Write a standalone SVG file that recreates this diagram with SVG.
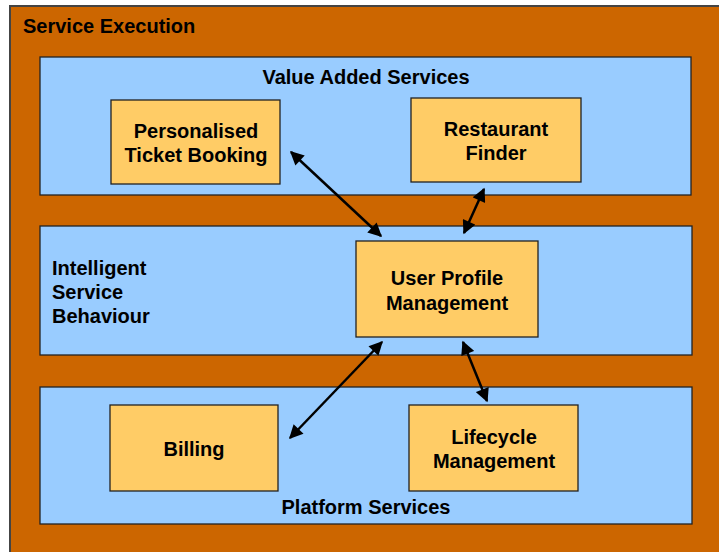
<svg xmlns="http://www.w3.org/2000/svg" width="719" height="552" viewBox="0 0 719 552">
<defs>
<style>
.panel{fill:#99ccff;stroke:#222;stroke-width:1.3}
.box{fill:#ffcc66;stroke:#222;stroke-width:1.3}
text{font-family:"Liberation Sans",Arial,sans-serif;font-weight:bold;font-size:20px;fill:#000}
.c{text-anchor:middle}
.conn{stroke:#000;stroke-width:2.5;fill:none;marker-start:url(#ah);marker-end:url(#ah)}
</style>
<marker id="ah" viewBox="0 0 10 10" refX="9" refY="5" markerWidth="6" markerHeight="5.5" orient="auto-start-reverse" markerUnits="strokeWidth">
<path d="M0,0 L10,5 L0,10 z" fill="#000"/>
</marker>
</defs>
<rect width="719" height="552" fill="#ffffff"/>
<g id="service-execution">
<rect x="10" y="6" width="720" height="560" fill="#cc6600" stroke="#444" stroke-width="2"/>
<text x="23" y="33">Service Execution</text>
</g>
<g id="value-added-services">
<rect class="panel" x="40" y="57" width="651" height="138"/>
<text class="c" x="366" y="84">Value Added Services</text>
</g>
<g id="intelligent-service-behaviour">
<rect class="panel" x="40" y="226" width="652" height="129"/>
<text x="52" y="275">Intelligent</text>
<text x="52" y="299">Service</text>
<text x="52" y="323">Behaviour</text>
</g>
<g id="platform-services">
<rect class="panel" x="40" y="387" width="652" height="137"/>
<text class="c" x="366" y="514">Platform Services</text>
</g>
<g id="personalised-ticket-booking">
<rect class="box" x="111" y="100" width="169" height="84"/>
<text class="c" x="196" y="138">Personalised</text>
<text class="c" x="196" y="162">Ticket Booking</text>
</g>
<g id="restaurant-finder">
<rect class="box" x="411" y="98" width="170" height="84"/>
<text class="c" x="496" y="136">Restaurant</text>
<text class="c" x="496" y="160">Finder</text>
</g>
<g id="user-profile-management">
<rect class="box" x="356" y="241" width="182" height="96"/>
<text class="c" x="447" y="285">User Profile</text>
<text class="c" x="447" y="310">Management</text>
</g>
<g id="billing">
<rect class="box" x="110" y="405" width="168" height="86"/>
<text class="c" x="194" y="456">Billing</text>
</g>
<g id="lifecycle-management">
<rect class="box" x="409" y="405" width="169" height="86"/>
<text class="c" x="494" y="444">Lifecycle</text>
<text class="c" x="494" y="468">Management</text>
</g>
<g id="connectors">
<line class="conn" x1="291" y1="152" x2="381" y2="236"/>
<line class="conn" x1="484" y1="189" x2="464" y2="233"/>
<line class="conn" x1="382" y1="342" x2="290" y2="438"/>
<line class="conn" x1="463" y1="342" x2="487" y2="401"/>
</g>
</svg>
